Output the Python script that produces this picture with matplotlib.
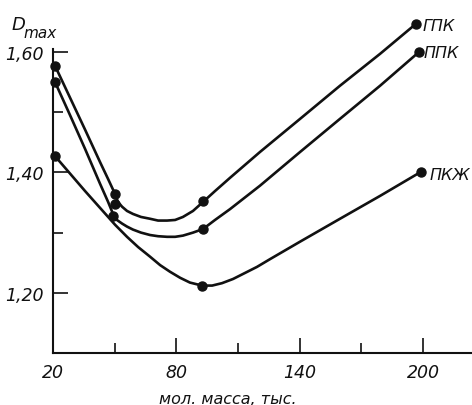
import matplotlib
matplotlib.use("Agg")
import matplotlib.pyplot as plt
from matplotlib.ticker import FixedLocator

# traced curves: molecular mass (thousands) vs D_max
gpk_x = [21.0, 28.3, 35.6, 42.9, 46.8, 50.2, 51.6, 53.6, 56.0, 58.9, 62.8, 67.2, 71.1,
         75.5, 79.4, 83.2, 88.1, 93.0, 98.8, 106.1, 120.7, 140.2, 159.6, 179.1, 196.6]
gpk_y = [1.577, 1.524, 1.471, 1.417, 1.389, 1.364, 1.351, 1.343, 1.336, 1.331, 1.326, 1.323, 1.320,
         1.320, 1.321, 1.326, 1.336, 1.351, 1.369, 1.391, 1.434, 1.489, 1.544, 1.597, 1.647]

ppk_x = [21.0, 28.3, 35.6, 42.9, 46.8, 49.2, 51.1, 53.6, 56.0, 58.9, 62.8, 67.2, 71.1,
         75.5, 79.4, 83.2, 88.1, 93.0, 98.8, 106.1, 120.7, 140.2, 159.6, 179.1, 198.0]
ppk_y = [1.550, 1.495, 1.439, 1.381, 1.351, 1.331, 1.321, 1.315, 1.310, 1.305, 1.300, 1.296, 1.294,
         1.293, 1.293, 1.295, 1.300, 1.306, 1.321, 1.339, 1.378, 1.434, 1.489, 1.544, 1.600]

pkzh_x = [21.0, 28.3, 35.6, 42.9, 50.2, 56.0, 61.4, 67.2, 72.1, 76.9, 81.8, 86.6, 92.5,
          97.4, 102.2, 107.6, 113.4, 119.2, 125.6, 140.2, 159.6, 179.1, 199.0]
pkzh_y = [1.427, 1.398, 1.369, 1.341, 1.313, 1.293, 1.276, 1.260, 1.246, 1.235, 1.225, 1.217, 1.212,
          1.212, 1.216, 1.223, 1.233, 1.243, 1.256, 1.285, 1.323, 1.361, 1.401]

# measured points
gpk_pts_x = [21.0, 50.2, 50.2, 93.0, 196.6]
gpk_pts_y = [1.577, 1.364, 1.347, 1.352, 1.647]
ppk_pts_x = [21.0, 49.2, 93.0, 198.0]
ppk_pts_y = [1.550, 1.328, 1.306, 1.600]
pkzh_pts_x = [21.0, 92.5, 199.0]
pkzh_pts_y = [1.427, 1.212, 1.401]

series_names = ["ГПК", "ППК", "ПКЖ"]

x_major = [20, 80, 140, 200]
x_minor = [50, 110, 170]
x_labels = ["20", "80", "140", "200"]
y_major = [1.20, 1.40, 1.60]
y_minor = [1.30, 1.50]
y_labels = ["1,20", "1,40", "1,60"]

ink = "#111111"
plt.rcParams["font.family"] = ["DejaVu Sans"]

fig = plt.figure(figsize=(4.72, 4.06), dpi=100)
ax = fig.add_axes([53 / 472, 52 / 406, 419 / 472, 304 / 406])

curves = [(gpk_x, gpk_y), (ppk_x, ppk_y), (pkzh_x, pkzh_y)]
points = [(gpk_pts_x, gpk_pts_y), (ppk_pts_x, ppk_pts_y), (pkzh_pts_x, pkzh_pts_y)]
label_offsets = [(5, -1), (3, 0), (6, -2)]

for (cx, cy), (px, py), name, off in zip(curves, points, series_names, label_offsets):
    ax.plot(cx, cy, color=ink, lw=1.9, solid_joinstyle="round", solid_capstyle="round",
            clip_on=False)
    ax.plot(px, py, "o", color=ink, ms=6.5, clip_on=False)
    ax.annotate(name, (px[-1], py[-1]), xytext=off, textcoords="offset points",
                ha="left", va="center", fontsize=11.5, style="italic", color=ink,
                annotation_clip=False)

ax.set_xlim(20, 223.8)
ax.set_ylim(1.10, 1.605)

for side in ["top", "right"]:
    ax.spines[side].set_visible(False)
for side in ["left", "bottom"]:
    ax.spines[side].set_linewidth(1.5)
    ax.spines[side].set_color(ink)

ax.xaxis.set_major_locator(FixedLocator(x_major))
ax.xaxis.set_minor_locator(FixedLocator(x_minor))
ax.set_xticklabels(x_labels)
ax.yaxis.set_major_locator(FixedLocator(y_major))
ax.yaxis.set_minor_locator(FixedLocator(y_minor))
ax.set_yticklabels(y_labels)

ax.tick_params(which="major", direction="in", length=11, width=1.2, color=ink,
               labelsize=12.5, labelcolor=ink)
ax.tick_params(which="minor", direction="in", length=7.5, width=1.2, color=ink)
ax.tick_params(axis="x", which="major", pad=7)
ax.tick_params(axis="y", which="major", pad=7)
for lab in ax.get_xticklabels() + ax.get_yticklabels():
    lab.set_fontstyle("italic")

fig.text(12 / 472, 1 - 30 / 406, "D", fontsize=13, style="italic", color=ink,
         ha="left", va="baseline")
fig.text(23 / 472, 1 - 38 / 406, "max", fontsize=11, style="italic", color=ink,
         ha="left", va="baseline")
fig.text(228 / 472, 1 - 404 / 406, "мол. масса, тыс.", fontsize=11.5, style="italic",
         color=ink, ha="center", va="baseline")

fig.savefig("out.png", dpi=100, facecolor="white")
